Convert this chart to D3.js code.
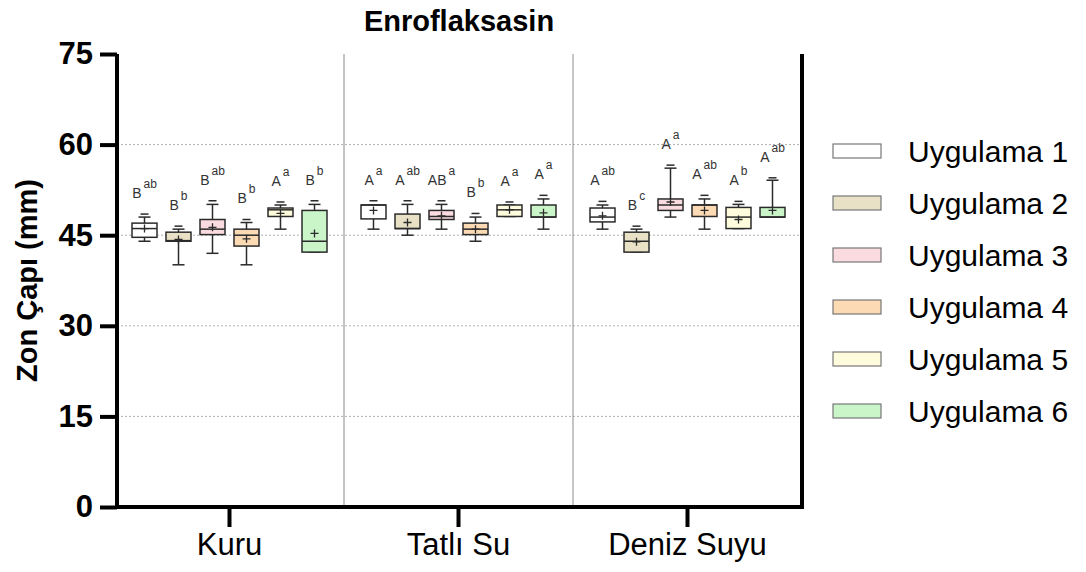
<!DOCTYPE html>
<html>
<head>
<meta charset="utf-8">
<script src="https://cdn.jsdelivr.net/npm/d3@7"></script>
<style>
  body { margin: 0; background: #fff; }
  text { font-family: "Liberation Sans", Arial, sans-serif; }
</style>
</head>
<body>
<svg width="1086" height="572"></svg>
<script>
// categories and series
var groups = ["Kuru", "Tatlı Su", "Deniz Suyu"];
var series = ["Uygulama 1", "Uygulama 2", "Uygulama 3", "Uygulama 4", "Uygulama 5", "Uygulama 6"];
var fills = ["#ffffff", "#e8e1c6", "#fadbe0", "#fcdab4", "#fefcdc", "#c9f5c9"];
var yTicks = [0, 15, 30, 45, 60, 75];

// box statistics, one row per group, one value per series (mm)
var whiskerLow = [
    [44.0, 40.1, 42.0, 40.1, 46.0, 42.2],
    [46.0, 45.0, 46.0, 44.0, 48.1, 46.0],
    [46.0, 42.2, 48.0, 46.0, 46.1, 48.0]
];
var q1 = [
    [44.65, 44.0, 45.1, 43.2, 48.1, 42.2],
    [47.7, 46.1, 47.6, 45.1, 48.1, 48.0],
    [47.2, 42.2, 49.1, 48.1, 46.1, 48.0]
];
var median = [
    [46.1, 44.1, 46.0, 45.0, 49.2, 44.0],
    [50.0, 46.1, 48.1, 46.0, 49.2, 48.0],
    [48.0, 44.0, 50.0, 50.0, 48.0, 48.0]
];
var q3 = [
    [47.0, 45.5, 47.6, 46.0, 49.5, 49.1],
    [50.0, 48.5, 49.1, 47.0, 50.0, 50.0],
    [49.5, 45.5, 51.0, 50.0, 49.6, 49.6]
];
var whiskerHigh = [
    [48.0, 46.0, 50.1, 47.1, 50.0, 50.1],
    [50.0, 50.1, 50.1, 48.0, 50.0, 51.0],
    [50.0, 46.0, 56.1, 51.0, 50.1, 54.1]
];
var maxMark = [
    [48.5, 46.5, 50.7, 47.6, 50.5, 50.7],
    [50.7, 50.7, 50.7, 48.6, 50.5, 51.6],
    [50.6, 46.5, 56.6, 51.6, 50.6, 54.5]
];
var means = [
    [46.1, 44.3, 46.3, 44.4, 48.6, 45.3],
    [49.1, 47.1, 48.2, 46.0, 49.2, 48.7],
    [48.2, 43.9, 50.5, 49.1, 47.6, 49.1]
];
// significance letters
var bigLetters = [
    ["B", "B", "B", "B", "A", "B"],
    ["A", "A", "AB", "B", "A", "A"],
    ["A", "B", "A", "A", "A", "A"]
];
var smallLetters = [
    ["ab", "b", "ab", "b", "a", "b"],
    ["a", "ab", "a", "b", "a", "a"],
    ["ab", "c", "a", "ab", "b", "ab"]
];

var svg = d3.select("svg");

var plotLeft = 117, plotRight = 802, plotTop = 54, plotBottom = 507;

var y = d3.scaleLinear().domain([0, 75]).range([plotBottom, plotTop]);
var x = d3.scaleBand().domain(groups).range([115, 802]);
var xInner = d3.scalePoint().domain(series).range([-85, 85]);
var boxW = 25;

// grid lines
svg.append("g")
    .selectAll("line")
    .data([15, 30, 45, 60])
    .enter()
    .append("line")
    .attr("x1", plotLeft).attr("x2", plotRight)
    .attr("y1", function (d) { return y(d); })
    .attr("y2", function (d) { return y(d); })
    .attr("stroke", "#b0b0b0")
    .attr("stroke-width", 1)
    .attr("stroke-dasharray", "2,2");

// group separators
svg.append("g")
    .selectAll("line")
    .data(groups.slice(1))
    .enter()
    .append("line")
    .attr("x1", function (d) { return x(d); })
    .attr("x2", function (d) { return x(d); })
    .attr("y1", plotTop).attr("y2", plotBottom)
    .attr("stroke", "#8c8c8c")
    .attr("stroke-width", 1);

// right border
svg.append("line")
    .attr("x1", plotRight).attr("x2", plotRight)
    .attr("y1", plotTop).attr("y2", plotBottom + 2)
    .attr("stroke", "#000")
    .attr("stroke-width", 4);

// flatten to one record per box
var boxes = [];
groups.forEach(function (g, gi) {
    series.forEach(function (s, si) {
        boxes.push({
            group: g, series: s, si: si,
            lo: whiskerLow[gi][si], q1: q1[gi][si], med: median[gi][si],
            q3: q3[gi][si], hi: whiskerHigh[gi][si], top: maxMark[gi][si],
            mean: means[gi][si], big: bigLetters[gi][si], small: smallLetters[gi][si]
        });
    });
});

var cx = function (d) { return x(d.group) + x.bandwidth() / 2 + xInner(d.series); };
var ink = "#2b2b2b";

var box = svg.append("g")
    .selectAll("g")
    .data(boxes)
    .enter()
    .append("g");

// whiskers
box.append("line")
    .attr("x1", cx).attr("x2", cx)
    .attr("y1", function (d) { return y(d.hi); })
    .attr("y2", function (d) { return y(d.q3); })
    .attr("stroke", ink).attr("stroke-width", 1.5);
box.append("line")
    .attr("x1", cx).attr("x2", cx)
    .attr("y1", function (d) { return y(d.q1); })
    .attr("y2", function (d) { return y(d.lo); })
    .attr("stroke", ink).attr("stroke-width", 1.5);
// caps
box.append("line")
    .attr("x1", function (d) { return cx(d) - 6; })
    .attr("x2", function (d) { return cx(d) + 6; })
    .attr("y1", function (d) { return y(d.hi); })
    .attr("y2", function (d) { return y(d.hi); })
    .attr("stroke", ink).attr("stroke-width", 1.5);
box.append("line")
    .attr("x1", function (d) { return cx(d) - 6; })
    .attr("x2", function (d) { return cx(d) + 6; })
    .attr("y1", function (d) { return y(d.lo); })
    .attr("y2", function (d) { return y(d.lo); })
    .attr("stroke", ink).attr("stroke-width", 1.5);
// top dash
box.append("line")
    .attr("x1", function (d) { return cx(d) - 4; })
    .attr("x2", function (d) { return cx(d) + 4; })
    .attr("y1", function (d) { return y(d.top); })
    .attr("y2", function (d) { return y(d.top); })
    .attr("stroke", ink).attr("stroke-width", 1.5);
// box body
box.append("rect")
    .attr("x", function (d) { return cx(d) - boxW / 2; })
    .attr("y", function (d) { return y(d.q3); })
    .attr("width", boxW)
    .attr("height", function (d) { return y(d.q1) - y(d.q3); })
    .attr("fill", function (d) { return fills[d.si]; })
    .attr("stroke", ink).attr("stroke-width", 1.5);
// median
box.append("line")
    .attr("x1", function (d) { return cx(d) - boxW / 2; })
    .attr("x2", function (d) { return cx(d) + boxW / 2; })
    .attr("y1", function (d) { return y(d.med); })
    .attr("y2", function (d) { return y(d.med); })
    .attr("stroke", ink).attr("stroke-width", 1.5);
// mean plus
box.append("path")
    .attr("d", function (d) {
        var px = cx(d), py = y(d.mean);
        return "M" + (px - 4) + "," + py + "H" + (px + 4) + "M" + px + "," + (py - 4) + "V" + (py + 4);
    })
    .attr("stroke", ink).attr("stroke-width", 1.3);

// letters
var lab = box.append("text")
    .attr("x", cx)
    .attr("y", function (d) { return y(d.top) - 16; })
    .attr("text-anchor", "middle")
    .attr("fill", "#333");
lab.append("tspan")
    .style("font-size", "14px")
    .text(function (d) { return d.big; });
lab.append("tspan")
    .attr("dx", 2)
    .attr("dy", -10)
    .style("font-size", "12px")
    .text(function (d) { return d.small; });

// axes
var yAxis = svg.append("g")
    .attr("transform", "translate(" + plotLeft + ",0)")
    .call(d3.axisLeft(y).tickValues(yTicks).tickSize(17).tickPadding(7).tickSizeOuter(0));
yAxis.select(".domain").attr("stroke-width", 4).attr("d", "M0," + (plotBottom + 2) + "V" + plotTop);
yAxis.selectAll(".tick line").attr("stroke-width", 4);
yAxis.selectAll(".tick text")
    .style("font-size", "31px").style("font-weight", "bold").attr("fill", "#000");

var xAxis = svg.append("g")
    .attr("transform", "translate(0," + plotBottom + ")")
    .call(d3.axisBottom(x).tickSize(20).tickPadding(6).tickSizeOuter(0));
xAxis.select(".domain").attr("stroke-width", 4).attr("d", "M" + (plotLeft - 2) + ",0H" + (plotRight + 2));
xAxis.selectAll(".tick line").attr("stroke-width", 4);
xAxis.selectAll(".tick text")
    .style("font-size", "31px").attr("fill", "#000");

// titles
svg.append("text")
    .attr("x", 459).attr("y", 31)
    .attr("text-anchor", "middle")
    .style("font-size", "29px").style("font-weight", "bold")
    .text("Enroflaksasin");

svg.append("text")
    .attr("transform", "translate(37," + ((plotTop + plotBottom) / 2) + ") rotate(-90)")
    .attr("text-anchor", "middle")
    .style("font-size", "29px").style("font-weight", "bold")
    .text("Zon Çapı (mm)");

// legend
var legend = svg.append("g")
    .selectAll("g")
    .data(series)
    .enter()
    .append("g")
    .attr("transform", function (d, i) { return "translate(833," + (151 + i * 52) + ")"; });
legend.append("rect")
    .attr("x", 0).attr("y", -7)
    .attr("width", 48).attr("height", 14)
    .attr("fill", function (d, i) { return fills[i]; })
    .attr("stroke", "#777").attr("stroke-width", 1.2);
legend.append("text")
    .attr("x", 75).attr("y", 0)
    .attr("dy", "0.35em")
    .style("font-size", "30px")
    .text(function (d) { return d; });
</script>
</body>
</html>
